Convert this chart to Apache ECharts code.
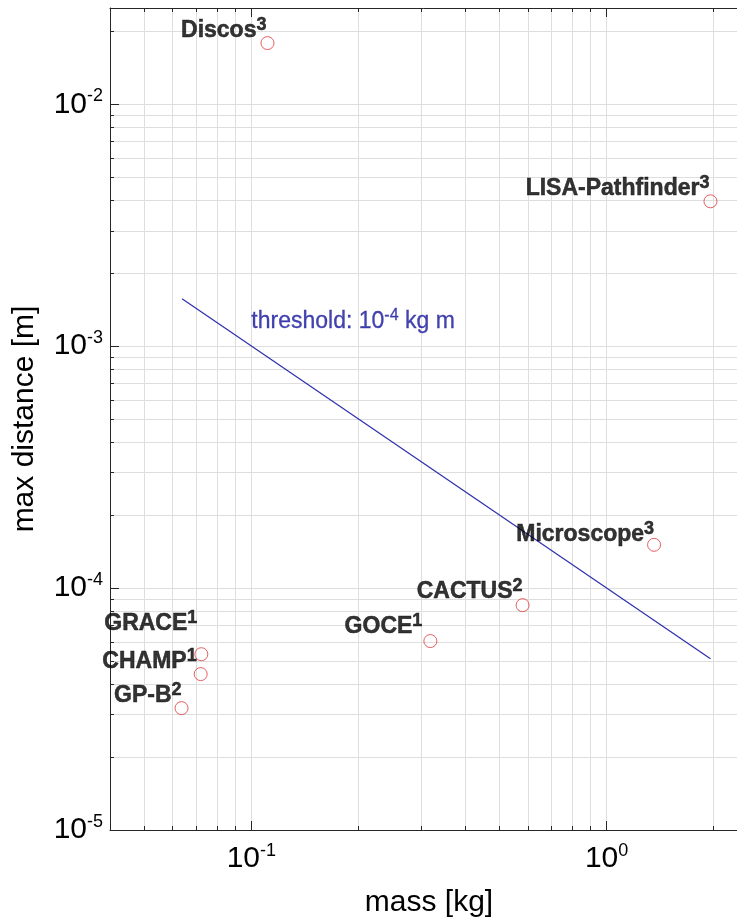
<!DOCTYPE html>
<html><head><meta charset="utf-8">
<script src="https://cdn.jsdelivr.net/npm/echarts@6/dist/echarts.min.js"></script>
<style>html,body{margin:0;padding:0;background:#fff;}#c{width:737px;height:918px;}</style>
</head><body><div id="c"></div>
<script>
// ---- data ----
const missionNames = ['Discos', 'LISA-Pathfinder', 'Microscope', 'CACTUS', 'GOCE', 'GRACE', 'CHAMP', 'GP-B'];
const missionRefs  = ['3', '3', '3', '2', '1', '1', '1', '2'];
const missionMass  = [0.111, 1.96, 1.36, 0.58, 0.319, 0.0723, 0.072, 0.0636];   // kg
const missionDist  = [0.0179, 0.00397, 1.51e-4, 8.5e-5, 6.04e-5, 5.33e-5, 4.41e-5, 3.19e-5]; // m
const thresholdMass = [0.0638, 1.96];
const thresholdDist = [1.57e-3, 5.1e-5];
const thresholdText = ['threshold: 10', '-4', ' kg m'];
const thresholdTextAt = [0.1, 1.27e-3];
const xMin = 0.04, xMax = 2.5;
const yMin = 1e-5, yMax = 0.025;
const xMajorTicks = [0.1, 1];
const xMinorTicks = [0.04, 0.05, 0.06, 0.07, 0.08, 0.09, 0.2, 0.3, 0.4, 0.5, 0.6, 0.7, 0.8, 0.9, 2];
const yMajorTicks = [1e-5, 1e-4, 1e-3, 1e-2];
const yMinorTicks = [2e-5, 3e-5, 4e-5, 5e-5, 6e-5, 7e-5, 8e-5, 9e-5,
                     2e-4, 3e-4, 4e-4, 5e-4, 6e-4, 7e-4, 8e-4, 9e-4,
                     2e-3, 3e-3, 4e-3, 5e-3, 6e-3, 7e-3, 8e-3, 9e-3, 2e-2];

// ---- styles ----
const FONT = '"Liberation Sans", Arial, Helvetica, sans-serif';
// label anchor (right end, baseline) relative to marker centre, px
const labelShift = [[-1, -6], [-1, -6], [0, -4], [0, -7], [-8, -8], [-4, -24], [-4, -6], [0, -6]];
const AXC = '#262626';
const allX = xMinorTicks.concat(xMajorTicks).sort((a, b) => a - b);
const allY = yMinorTicks.concat(yMajorTicks).sort((a, b) => a - b);

const tickRich = {
  b: {fontFamily: FONT, fontSize: 30, lineHeight: 34, padding: [6, 0, 6, 0], color: '#000'},
  s: {fontFamily: FONT, fontSize: 18, lineHeight: 18, verticalAlign: 'top', color: '#000'}
};
function powLabel(v) {
  const e = Math.round(Math.log10(v));
  return '{b|10}{s|' + e + '}';
}
function xAx(pos, ticks, len, opts) {
  return Object.assign({
    type: 'log', min: xMin, max: xMax, position: pos,
    axisLine: {show: false, lineStyle: {color: AXC, width: 1}},
    axisTick: {show: true, inside: true, length: len, customValues: ticks, lineStyle: {color: AXC, width: 1}},
    axisLabel: {show: false},
    splitLine: {show: false},
    minorTick: {show: false}, minorSplitLine: {show: false}
  }, opts || {});
}
function yAx(pos, ticks, len, opts) {
  return Object.assign({
    type: 'log', min: yMin, max: yMax, position: pos,
    axisLine: {show: false, lineStyle: {color: AXC, width: 1}},
    axisTick: {show: true, inside: true, length: len, customValues: ticks, lineStyle: {color: AXC, width: 1}},
    axisLabel: {show: false},
    splitLine: {show: false},
    minorTick: {show: false}, minorSplitLine: {show: false}
  }, opts || {});
}
const gridLine = {show: true, lineStyle: {color: '#dedede', width: 1}};

const chart = echarts.init(document.getElementById('c'), null, {renderer: 'canvas'});
chart.setOption({
  animation: false,
  backgroundColor: '#fff',
  grid: {left: 110, top: 8, right: -11, bottom: 88, containLabel: false, outerBoundsMode: 'none'},
  xAxis: [
    xAx('bottom', allX, 4, {
      name: 'mass [kg]', nameLocation: 'middle', nameGap: 49,
      nameTextStyle: {fontFamily: FONT, fontSize: 30, lineHeight: 36, color: '#000'},
      axisLine: {show: true, lineStyle: {color: AXC, width: 1}},
      axisLabel: {show: true, customValues: xMajorTicks, margin: 12, formatter: powLabel, rich: tickRich},
      splitLine: gridLine
    }),
    xAx('bottom', xMajorTicks, 9),
    xAx('top', allX, 4, {axisLine: {show: true, lineStyle: {color: AXC, width: 1}}}),
    xAx('top', xMajorTicks, 9)
  ],
  yAxis: [
    yAx('left', allY, 4, {
      name: 'max distance [m]', nameLocation: 'middle', nameGap: 55,
      nameTextStyle: {fontFamily: FONT, fontSize: 30, lineHeight: 36, color: '#000'},
      axisLine: {show: true, lineStyle: {color: AXC, width: 1}},
      axisLabel: {show: true, customValues: yMajorTicks, margin: 7, formatter: powLabel, rich: tickRich},
      splitLine: gridLine
    }),
    yAx('left', yMajorTicks, 9),
    yAx('right', allY, 4, {axisLine: {show: true, lineStyle: {color: AXC, width: 1}}}),
    yAx('right', yMajorTicks, 9)
  ],
  series: [
    {
      type: 'line', name: 'threshold', xAxisIndex: 0, yAxisIndex: 0,
      data: thresholdMass.map((m, i) => [m, thresholdDist[i]]),
      showSymbol: false, symbol: 'none',
      lineStyle: {color: '#2e2eae', width: 1.2}, z: 3, silent: true
    },
    {
      type: 'scatter', name: 'threshold label', xAxisIndex: 0, yAxisIndex: 0,
      data: [thresholdTextAt], symbolSize: 0, silent: true, z: 4,
      label: {
        show: true, position: ['50%', '50%'], align: 'left', verticalAlign: 'middle', color: '#14149c',
        formatter: () => '{b|' + thresholdText[0] + '}{s|' + thresholdText[1] + '}{b|' + thresholdText[2] + '}',
        rich: {
          b: {fontFamily: FONT, fontSize: 23, lineHeight: 26, padding: [2, 0, 0, 0], color: '#14149c', textBorderColor: '#14149c', textBorderWidth: 0.3},
          s: {fontFamily: FONT, fontSize: 16, lineHeight: 16, verticalAlign: 'top', color: '#14149c', textBorderColor: '#14149c', textBorderWidth: 0.3}
        }
      }
    },
    {
      type: 'scatter', name: 'missions', xAxisIndex: 0, yAxisIndex: 0,
      symbol: 'circle', symbolSize: 13, z: 5, silent: true,
      itemStyle: {color: 'rgba(0,0,0,0)', borderColor: '#e0383c', borderWidth: 1},
      data: missionMass.map((m, i) => ({
        value: [m, missionDist[i]],
        label: {offset: [labelShift[i][0], labelShift[i][1] + 5]}
      })),
      label: {
        show: true, position: ['50%', '50%'], align: 'right', verticalAlign: 'bottom', color: '#000',
        formatter: p => '{b|' + missionNames[p.dataIndex] + '}{s|' + missionRefs[p.dataIndex] + '}',
        rich: {
          b: {fontFamily: FONT, fontSize: 23, fontWeight: 'bold', lineHeight: 26, padding: [3, 0, 0, 0], color: '#000', textBorderColor: '#000', textBorderWidth: 0.5},
          s: {fontFamily: FONT, fontSize: 18, fontWeight: 'bold', lineHeight: 18, verticalAlign: 'top', color: '#000', textBorderColor: '#000', textBorderWidth: 0.5}
        }
      }
    }
  ]
});
</script>
</body></html>
